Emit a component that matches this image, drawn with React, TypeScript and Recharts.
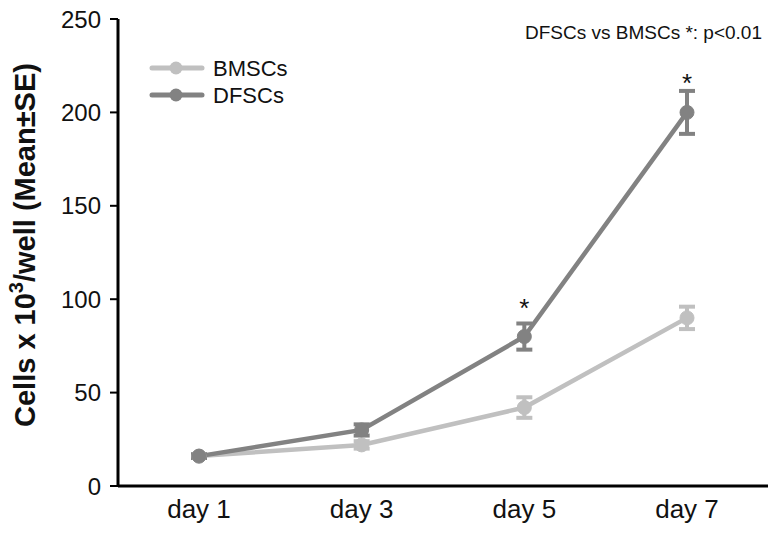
import React from 'react';
import { LineChart, Line, XAxis, YAxis, ErrorBar, LabelList } from 'recharts';

// Cell counts (x10^3 per well)
const days = ['day 1', 'day 3', 'day 5', 'day 7'];
const bmscsMean = [16, 22, 42, 90];
const bmscsSE = [1, 2, 5.5, 6];
const dfscsMean = [16, 30, 80, 200];
const dfscsSE = [1, 3, 7, 11.5];
const dfscsSig = ['', '', '*', '*'];
const yTicks = [0, 50, 100, 150, 200, 250];

const BMSC_COLOR = '#c0c0c0';
const DFSC_COLOR = '#828282';
const FONT = '"Liberation Sans", Arial, sans-serif';

const data = days.map((day, i) => ({
  day,
  bmscs: bmscsMean[i],
  bmscsErr: bmscsSE[i],
  dfscs: dfscsMean[i],
  dfscsErr: dfscsSE[i],
  sig: dfscsSig[i],
}));

const legendItems = [
  { name: 'BMSCs', color: BMSC_COLOR },
  { name: 'DFSCs', color: DFSC_COLOR },
];

// legend drawn straight into the svg so it takes no layout space
const LegendBox = () => (
  <g transform="translate(150, 68)">
    {legendItems.map((item, i) => (
      <g key={item.name} transform={`translate(0, ${i * 27})`}>
        <line x1={2} x2={52} y1={0} y2={0} stroke={item.color} strokeWidth={5} strokeLinecap="round" />
        <circle cx={26} cy={0} r={6.5} fill={item.color} />
        <text x={63} y={8} fontSize={22} fontFamily={FONT} fill="#111">
          {item.name}
        </text>
      </g>
    ))}
  </g>
);

const YLabel = () => {
  const cx = 35;
  const cy = 245;
  return (
    <text
      x={cx}
      y={cy}
      transform={`rotate(-90, ${cx}, ${cy})`}
      textAnchor="middle"
      fontSize={29}
      fontWeight="bold"
      fontFamily={FONT}
      fill="#111"
    >
      Cells x 10
      <tspan fontSize={20} dy={-12}>3</tspan>
      <tspan dy={12}>/well (Mean±SE)</tspan>
    </text>
  );
};

const Star = (props: any) => {
  const { x, y, value } = props;
  if (!value) return null;
  return (
    <text x={x} y={y - 20} textAnchor="middle" fontSize={26} fontFamily={FONT} fill="#111">
      {value}
    </text>
  );
};

export default function App() {
  return (
    <div style={{ position: 'absolute', left: 0, top: 0, background: '#fff' }}>
      <LineChart width={776} height={534} data={data} margin={{ top: 19, right: 8, bottom: 0, left: 0 }}>
        <XAxis
          dataKey="day"
          height={48}
          padding={{ left: 81, right: 81 }}
          tickLine={false}
          tickSize={0}
          tickMargin={14}
          axisLine={{ stroke: '#000', strokeWidth: 3 }}
          tick={{ fontSize: 26, fontFamily: FONT, fill: '#111' }}
        />
        <XAxis xAxisId="top" dataKey="day" orientation="top" height={0} tick={false} tickLine={false} axisLine={{ stroke: '#000', strokeWidth: 2 }} />
        <YAxis
          width={118}
          domain={[0, 250]}
          ticks={yTicks}
          tickSize={8}
          tickMargin={9}
          axisLine={{ stroke: '#000', strokeWidth: 3 }}
          tickLine={{ stroke: '#000', strokeWidth: 2 }}
          tick={{ fontSize: 24, fontFamily: FONT, fill: '#111' }}
          label={<YLabel />}
        />
        <YAxis yAxisId="right" orientation="right" width={0} domain={[0, 250]} tick={false} tickLine={false} axisLine={{ stroke: '#000', strokeWidth: 2 }} />
        <Line
          dataKey="bmscs"
          name="BMSCs"
          type="linear"
          stroke={BMSC_COLOR}
          strokeWidth={4.5}
          dot={{ r: 7, fill: BMSC_COLOR, stroke: BMSC_COLOR, strokeWidth: 1 }}
          isAnimationActive={false}
        >
          <ErrorBar dataKey="bmscsErr" direction="y" width={8} stroke={BMSC_COLOR} strokeWidth={4} />
        </Line>
        <Line
          dataKey="dfscs"
          name="DFSCs"
          type="linear"
          stroke={DFSC_COLOR}
          strokeWidth={4.5}
          dot={{ r: 7, fill: DFSC_COLOR, stroke: DFSC_COLOR, strokeWidth: 1 }}
          isAnimationActive={false}
        >
          <ErrorBar dataKey="dfscsErr" direction="y" width={8} stroke={DFSC_COLOR} strokeWidth={4} />
          <LabelList dataKey="sig" content={<Star />} />
        </Line>
        <LegendBox />
        <text x={762} y={39} textAnchor="end" fontSize={19} fontFamily={FONT} fill="#111">
          DFSCs vs BMSCs *: p&lt;0.01
        </text>
      </LineChart>
    </div>
  );
}
